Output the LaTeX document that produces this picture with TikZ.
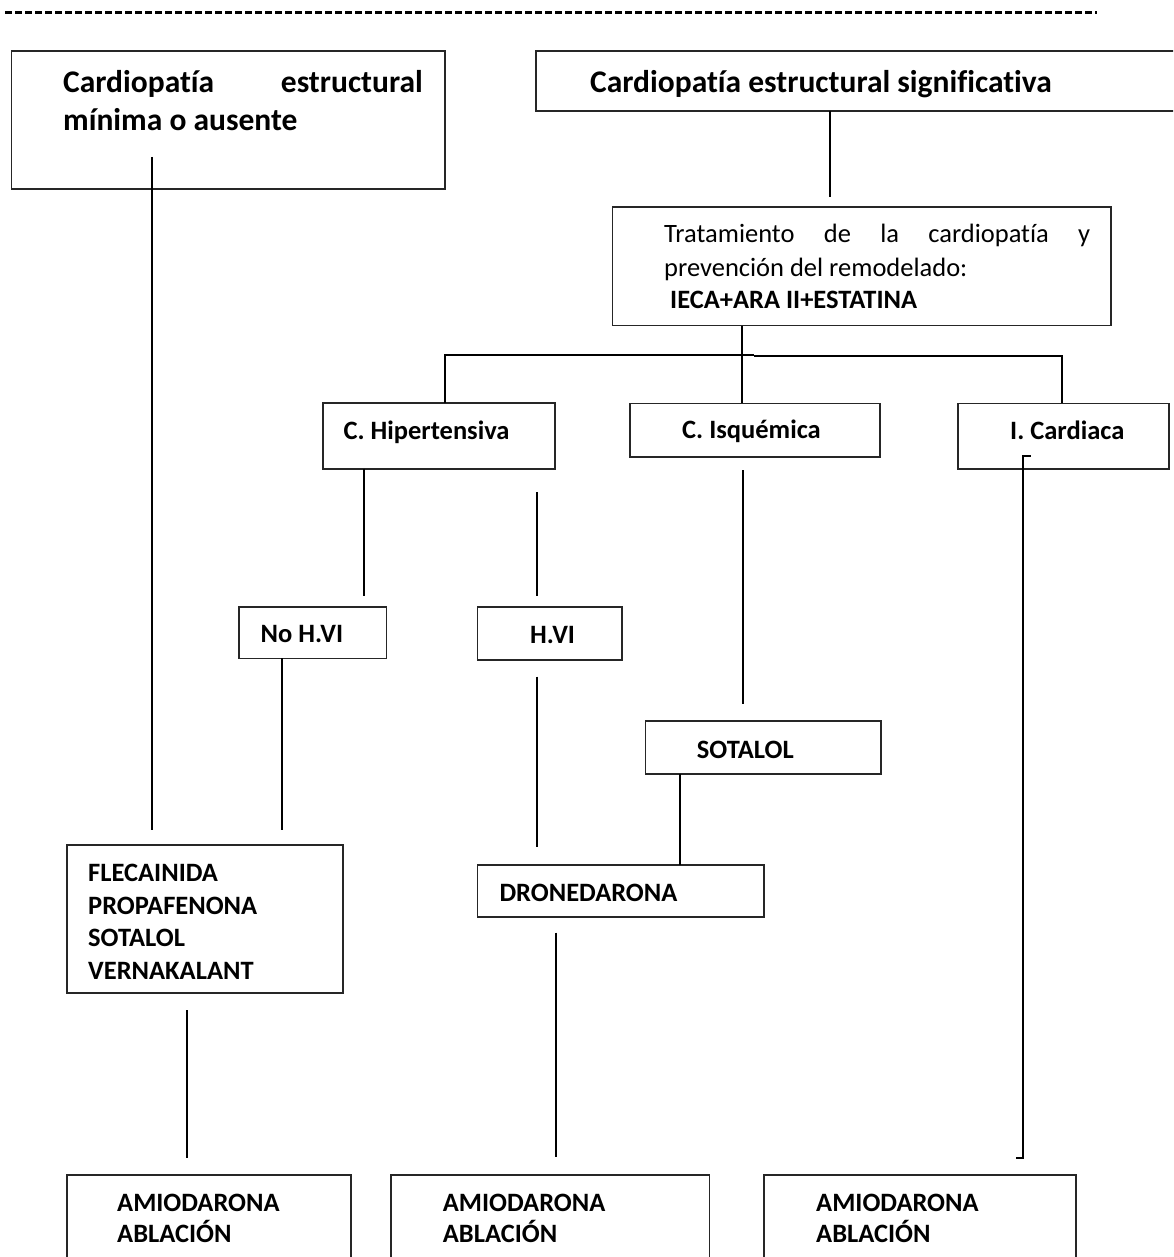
\documentclass[tikz,border=0pt]{standalone}
\usepackage{fontspec}
\setmainfont{Carlito}[Ligatures=NoCommon]
\usetikzlibrary{calc}

\tikzset{
  box/.style={draw=black!85, line width=1.6pt, anchor=north west,
              inner sep=0pt, outer sep=0pt},
  link/.style={line width=2pt, black},
  big/.style={font=\fontsize{31.5}{38}\selectfont\bfseries,
              anchor=base west, inner sep=0pt},
  small/.style={font=\fontsize{26.5}{32.7}\selectfont\bfseries,
              anchor=base west, inner sep=0pt},
  plain/.style={font=\fontsize{26.5}{32.7}\selectfont,
              anchor=base west, inner sep=0pt},
  rule/.style={line width=3pt, dash pattern=on 6.5pt off 3.5pt},
}

\begin{document}
\begin{tikzpicture}[x=1pt, y=-1pt]
\useasboundingbox (0,0) rectangle (1173,1257);
\clip (0,0) rectangle (1173,1257);
\fill[white] (0,0) rectangle (1173,1257);

% separator rule across the top
\coordinate (r1) at (5,13);
\coordinate (r2) at (1097,13);
\draw[rule] (r1) -- (r2);

% ---- boxes ----
\node[box, minimum width=433.5pt, minimum height=138pt]   (A) at (11.5,51)   {};
\node[box, minimum width=700pt,   minimum height=60pt]    (B) at (536,51)    {};
\node[box, minimum width=498.5pt, minimum height=118.5pt] (C) at (612.5,207) {};
\node[box, minimum width=232pt,   minimum height=65.7pt]  (D) at (322.7,403) {};
\node[box, minimum width=250pt,   minimum height=53.4pt]  (E) at (630,403.3) {};
\node[box, minimum width=211pt,   minimum height=65.4pt]  (F) at (957.7,403.3) {};
\node[box, minimum width=147.8pt, minimum height=51.6pt]  (G) at (238.7,606.7) {};
\node[box, minimum width=144.2pt, minimum height=53.3pt]  (H) at (477.5,606.7) {};
\node[box, minimum width=235.4pt, minimum height=53.3pt]  (I) at (645.3,720.7) {};
\node[box, minimum width=276pt,   minimum height=147.7pt] (J) at (67,845)    {};
\node[box, minimum width=286.7pt, minimum height=52pt]    (K) at (477.3,864.7) {};
\node[box, minimum width=283.7pt, minimum height=150pt]   (L) at (67,1175)   {};
\node[box, minimum width=318.3pt, minimum height=150pt]   (M) at (391,1175)  {};
\node[box, minimum width=312pt,   minimum height=150pt]   (N) at (764,1175)  {};

% ---- texts ----
\node[big] (tA1) at (63,93) {Cardiopatía};
\node[big, anchor=base east] (tA2) at (423,93) {estructural};
\node[big] (tA3) at (63,131) {mínima o ausente};

\node[big] (tB) at (590,93) {Cardiopatía estructural significativa};

\node[plain] (tC1) at (664,243) {\makebox[426pt][s]{Tratamiento de la cardiopatía y}};
\node[plain] (tC2) at (664,276.7) {prevención del remodelado:};
\node[small] (tC3) at (670,308) {IECA+ARA II+ESTATINA};

\node[small] (tD) at (343.3,439) {C. Hipertensiva};
\node[small] (tE) at (682,438.3) {C. Isquémica};
\node[small] (tF) at (1010,439.3) {I. Cardiaca};

\node[small] (tG) at (260.5,642.7) {No H.VI};
\node[small] (tH) at (530,643) {H.VI};
\node[small] (tI) at (696.7,758) {SOTALOL};

\node[small] (tJ1) at (88,881)   {FLECAINIDA};
\node[small] (tJ2) at (88,914.3) {PROPAFENONA};
\node[small] (tJ3) at (88,946.7) {SOTALOL};
\node[small] (tJ4) at (88,979)   {VERNAKALANT};

\node[small] (tK) at (499.3,901.7) {DRONEDARONA};

\node[small] (tL1) at (117,1211.7)   {AMIODARONA};
\node[small] (tL2) at (117,1242.7)   {ABLACIÓN};
\node[small] (tM1) at (442.7,1211.7) {AMIODARONA};
\node[small] (tM2) at (442.7,1242.7) {ABLACIÓN};
\node[small] (tN1) at (816,1211.7)   {AMIODARONA};
\node[small] (tN2) at (816,1242.7)   {ABLACIÓN};

% ---- connectors ----
% minimal heart disease branch
\coordinate (a1) at (151.7,157);
\coordinate (a2) at (151.7,830);
\draw[link] (a1) -- (a2);

% significant heart disease to treatment
\coordinate (b1) at (829.5,111);
\coordinate (b2) at (829.5,196.7);
\draw[link] (b1) -- (b2);

% treatment trunk and bus
\coordinate (cx) at (742.3,0);
\coordinate (busL) at (445.3,355);
\coordinate (busM) at (753.6,355);
\coordinate (busM2) at (753.6,355.8);
\coordinate (busR) at (1062,355.8);
\draw[link] (C.south -| cx) -- (E.north -| cx);
\draw[link] (D.north -| busL) -- (busL) -- (busM);
\draw[link] (busM2) -- (busR) -- (F.north -| busR);

% hypertensive branches
\coordinate (d0) at (363.7,0);
\coordinate (d1) at (363.7,596);
\draw[link] (D.south -| d0) -- (d1);
\coordinate (h1) at (536.7,492);
\coordinate (h2) at (536.7,595.7);
\draw[link] (h1) -- (h2);

% ischaemic branch
\coordinate (e1) at (743,470);
\coordinate (e2) at (743,704);
\draw[link] (e1) -- (e2);

% heart failure branch
\coordinate (f1) at (1030.7,455.7);
\coordinate (f2) at (1023.3,455.7);
\coordinate (f3) at (1023.3,1158.3);
\coordinate (f4) at (1015.7,1158.3);
\draw[link] (f1) -- (f2) -- (f3) -- (f4);

% No H.VI and H.VI to drugs
\coordinate (g0) at (282.4,0);
\coordinate (g1) at (282.4,830);
\draw[link] (G.south -| g0) -- (g1);
\coordinate (h3) at (537,676.7);
\coordinate (h4) at (537,846.7);
\draw[link] (h3) -- (h4);

% sotalol to dronedarona
\coordinate (i0) at (680,0);
\draw[link] (I.south -| i0) -- (K.north -| i0);

% drugs to amiodarona / ablación
\coordinate (j1) at (186.6,1010);
\coordinate (j2) at (186.6,1158);
\draw[link] (j1) -- (j2);
\coordinate (k1) at (556,932.7);
\coordinate (k2) at (556,1157);
\draw[link] (k1) -- (k2);

\end{tikzpicture}
\end{document}
